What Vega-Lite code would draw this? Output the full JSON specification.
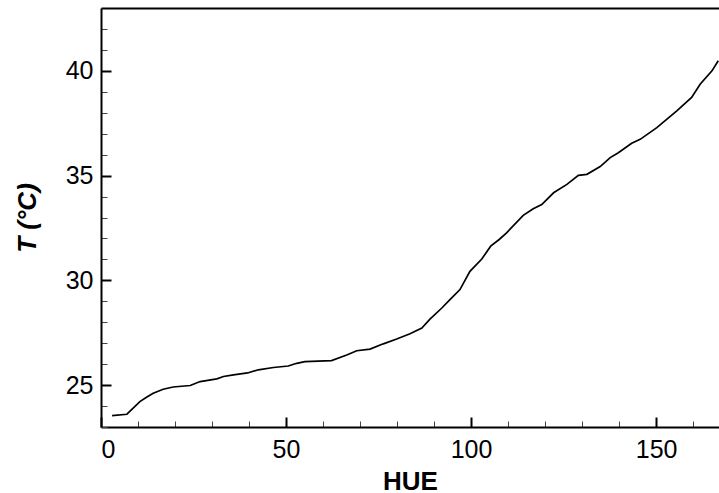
{
  "$schema": "https://vega.github.io/schema/vega-lite/v6.json",
  "width": 618,
  "height": 419,
  "autosize": {"type": "none"},
  "padding": {"left": 101, "top": 8, "right": 0, "bottom": 66},
  "background": "white",
  "config": {
    "view": {"stroke": null},
    "axis": {
      "domainColor": "black",
      "domainWidth": 2,
      "labelColor": "black",
      "titleColor": "black",
      "labelFont": "Liberation Sans",
      "titleFont": "Liberation Sans",
      "labelFontSize": 25,
      "titleFontSize": 26,
      "titleFontWeight": "bold",
      "labelOverlap": false,
      "grid": false
    }
  },
  "data": {
    "values": [
      {"HUE": 3.0, "T": 23.54},
      {"HUE": 7.0, "T": 23.61},
      {"HUE": 10.5, "T": 24.21},
      {"HUE": 12.3, "T": 24.42},
      {"HUE": 14.1, "T": 24.61},
      {"HUE": 16.8, "T": 24.80},
      {"HUE": 19.5, "T": 24.91},
      {"HUE": 24.1, "T": 24.98},
      {"HUE": 26.8, "T": 25.17},
      {"HUE": 31.3, "T": 25.30},
      {"HUE": 33.1, "T": 25.41},
      {"HUE": 35.8, "T": 25.49},
      {"HUE": 39.6, "T": 25.58},
      {"HUE": 42.5, "T": 25.73},
      {"HUE": 46.6, "T": 25.84},
      {"HUE": 50.6, "T": 25.91},
      {"HUE": 52.9, "T": 26.04},
      {"HUE": 55.1, "T": 26.12},
      {"HUE": 62.3, "T": 26.17},
      {"HUE": 66.4, "T": 26.44},
      {"HUE": 69.1, "T": 26.64},
      {"HUE": 72.7, "T": 26.72},
      {"HUE": 76.3, "T": 26.97},
      {"HUE": 79.9, "T": 27.20},
      {"HUE": 83.5, "T": 27.45},
      {"HUE": 86.7, "T": 27.72},
      {"HUE": 88.9, "T": 28.15},
      {"HUE": 92.1, "T": 28.68},
      {"HUE": 94.3, "T": 29.08},
      {"HUE": 97.0, "T": 29.56},
      {"HUE": 99.7, "T": 30.43},
      {"HUE": 102.9, "T": 31.02},
      {"HUE": 105.3, "T": 31.63},
      {"HUE": 107.6, "T": 31.95},
      {"HUE": 109.6, "T": 32.27},
      {"HUE": 114.1, "T": 33.10},
      {"HUE": 116.8, "T": 33.42},
      {"HUE": 119.1, "T": 33.62},
      {"HUE": 122.3, "T": 34.18},
      {"HUE": 125.9, "T": 34.58},
      {"HUE": 129.0, "T": 35.01},
      {"HUE": 131.3, "T": 35.06},
      {"HUE": 134.9, "T": 35.43},
      {"HUE": 137.6, "T": 35.86},
      {"HUE": 139.8, "T": 36.09},
      {"HUE": 143.4, "T": 36.54},
      {"HUE": 145.7, "T": 36.73},
      {"HUE": 150.2, "T": 37.29},
      {"HUE": 155.6, "T": 38.09},
      {"HUE": 159.6, "T": 38.73},
      {"HUE": 161.9, "T": 39.36},
      {"HUE": 165.1, "T": 40.00},
      {"HUE": 166.8, "T": 40.48}
    ]
  },
  "layer": [
    {
      "mark": {"type": "line", "opacity": 0},
      "encoding": {
        "x": {
          "field": "HUE",
          "type": "quantitative",
          "axis": {"orient": "top", "title": null, "labels": false, "ticks": false}
        },
        "y": {
          "field": "T",
          "type": "quantitative",
          "axis": {
            "orient": "right",
            "offset": -618,
            "title": null,
            "labels": false,
            "domain": false,
            "values": [25, 30, 35, 40],
            "tickSize": 10,
            "tickWidth": 2,
            "tickColor": "black"
          }
        }
      }
    },
    {
      "mark": {"type": "line", "opacity": 0},
      "encoding": {
        "x": {
          "field": "HUE",
          "type": "quantitative",
          "axis": {
            "orient": "top",
            "offset": -419,
            "title": null,
            "labels": false,
            "domain": false,
            "values": [0, 50, 100, 150],
            "tickSize": 10,
            "tickWidth": 2,
            "tickColor": "black"
          }
        },
        "y": {
          "field": "T",
          "type": "quantitative",
          "axis": {
            "orient": "right",
            "offset": -618,
            "title": null,
            "labels": false,
            "domain": false,
            "values": [23, 24, 26, 27, 28, 29, 31, 32, 33, 34, 36, 37, 38, 39, 41, 42],
            "tickSize": 6,
            "tickWidth": 1,
            "tickColor": "#444444"
          }
        }
      }
    },
    {
      "mark": {"type": "line", "opacity": 0},
      "encoding": {
        "x": {
          "field": "HUE",
          "type": "quantitative",
          "axis": {
            "orient": "top",
            "offset": -419,
            "title": null,
            "labels": false,
            "domain": false,
            "values": [10, 20, 30, 40, 60, 70, 80, 90, 110, 120, 130, 140, 160],
            "tickSize": 6,
            "tickWidth": 1,
            "tickColor": "#444444"
          }
        },
        "y": {"field": "T", "type": "quantitative", "axis": null}
      }
    },
    {
      "mark": {"type": "line", "color": "black", "strokeWidth": 1.7, "clip": true},
      "encoding": {
        "x": {
          "field": "HUE",
          "type": "quantitative",
          "scale": {"domain": [0, 167], "nice": false, "zero": false},
          "axis": {
            "orient": "bottom",
            "title": "HUE",
            "titlePadding": 6,
            "values": [0, 50, 100, 150],
            "ticks": false,
            "labelPadding": 10
          }
        },
        "y": {
          "field": "T",
          "type": "quantitative",
          "scale": {"domain": [23, 43], "nice": false, "zero": false},
          "axis": {
            "orient": "left",
            "title": "T (°C)",
            "titleFontStyle": "italic",
            "titlePadding": 25,
            "values": [25, 30, 35, 40],
            "ticks": false,
            "labelPadding": 8
          }
        }
      }
    }
  ],
  "resolve": {"axis": {"x": "independent", "y": "independent"}}
}
